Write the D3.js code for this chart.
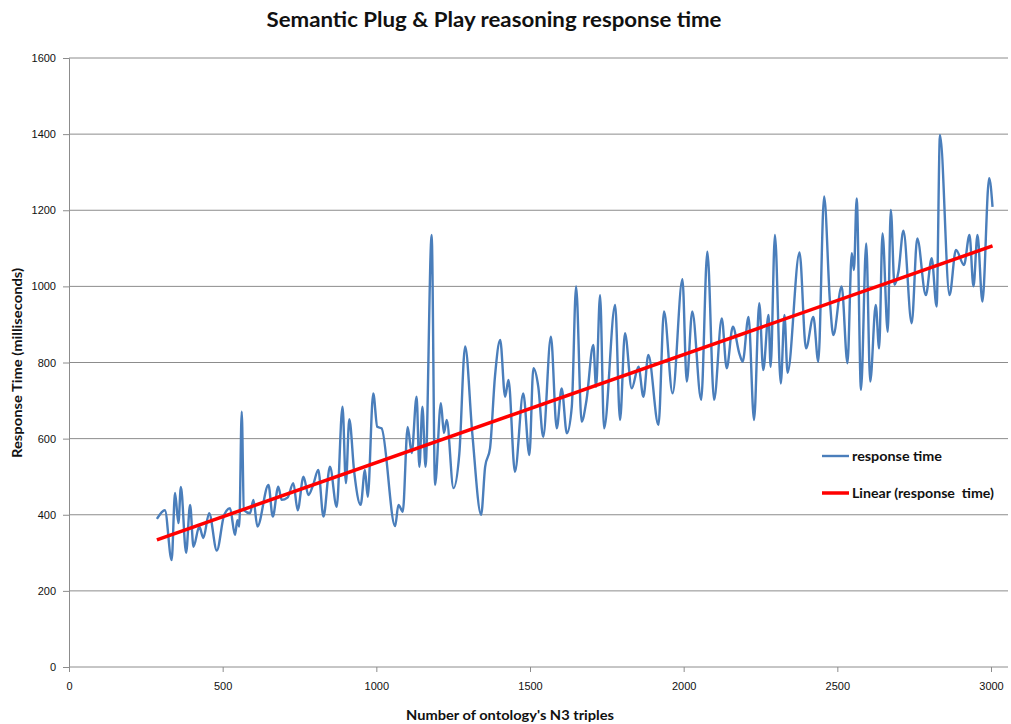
<!DOCTYPE html>
<html>
<head>
<meta charset="utf-8">
<title>Semantic Plug & Play reasoning response time</title>
<script src="https://cdn.jsdelivr.net/npm/d3@7"></script>
<style>
    body { margin: 0; background: #fff; }
    .tick-text { font-family: "Liberation Sans Narrow", "Liberation Sans", sans-serif; font-size: 11px; fill: #111; }
    .bold-text { font-family: Lato, "Open Sans", sans-serif; font-weight: bold; fill: #111; white-space: pre; }
</style>
</head>
<body>
<div id="chart" style="width:1011px;height:724px;"></div>
<script>

/* number of ontology's N3 triples (x) */
const triples = [
    286, 312, 334, 345, 356, 364, 381, 394, 405, 424, 437, 456, 481, 505, 524, 540, 548, 554, 562, 569,
    589, 600, 613, 649, 663, 681, 692, 711, 730, 744, 763, 779, 795, 811, 828, 849, 871, 890, 901, 912,
    928, 949, 963, 972, 990, 1003, 1017, 1061, 1072, 1086, 1102, 1115, 1131, 1140, 1150, 1160, 1180, 1191, 1210, 1220,
    1229, 1251, 1270, 1289, 1312, 1341, 1354, 1370, 1386, 1403, 1419, 1430, 1451, 1478, 1498, 1511, 1527, 1543, 1568, 1587,
    1603, 1620, 1636, 1650, 1668, 1684, 1706, 1715, 1728, 1741, 1777, 1793, 1809, 1831, 1853, 1869, 1885, 1918, 1936, 1964,
    1996, 2010, 2028, 2057, 2077, 2099, 2124, 2140, 2160, 2181, 2192, 2211, 2229, 2246, 2259, 2276, 2283, 2297, 2316, 2328,
    2338, 2377, 2398, 2422, 2438, 2457, 2476, 2487, 2514, 2533, 2547, 2554, 2563, 2577, 2594, 2607, 2625, 2636, 2647, 2664,
    2674, 2686, 2699, 2715, 2742, 2760, 2788, 2807, 2823, 2834, 2865, 2886, 2912, 2930, 2943, 2956, 2972, 2994, 3005
];

/* response time in milliseconds (y) */
const responseMs = [
    389, 412, 281, 457, 378, 473, 300, 426, 316, 369, 339, 404, 306, 400, 417, 347, 386, 369, 671, 412,
    404, 439, 369, 478, 395, 474, 439, 445, 483, 412, 500, 452, 480, 518, 395, 526, 421, 684, 483, 651,
    512, 426, 518, 447, 719, 631, 627, 370, 426, 408, 631, 562, 710, 526, 684, 526, 1135, 478, 693, 615,
    649, 470, 560, 842, 616, 400, 526, 575, 763, 859, 710, 754, 513, 719, 557, 785, 736, 605, 868, 627,
    732, 614, 684, 1000, 645, 702, 846, 736, 977, 627, 951, 649, 877, 732, 789, 710, 820, 636, 934, 719,
    1019, 750, 934, 702, 1091, 702, 916, 785, 894, 824, 802, 920, 649, 956, 780, 925, 789, 1135, 745, 925,
    773, 1089, 837, 920, 802, 1236, 960, 872, 1000, 798, 1087, 1043, 1231, 728, 1113, 750, 951, 837, 1139, 881,
    1201, 1004, 1039, 1146, 903, 1126, 977, 1074, 947, 1398, 977, 1096, 1056, 1135, 1000, 1135, 960, 1284, 1209
];

/* linear trend line (response time): [slope, intercept] */
const trendCoef = [0.2841, 252.7];

/* tick labels */
const xTicks = [0, 500, 1000, 1500, 2000, 2500, 3000];
const yTicks = [0, 200, 400, 600, 800, 1000, 1200, 1400, 1600];

const seriesNames = ["response time", "Linear (response  time)"];

function drawChart(container) {

    const W = 1011, H = 724;
    const plotLeft = 69, plotRight = 1008, plotTop = 58, plotBottom = 667;

    const svg = d3.select(container)
        .append("svg")
        .attr("xmlns", "http://www.w3.org/2000/svg")
        .attr("width", W)
        .attr("height", H);

    /* scales */
    const xScale = d3.scaleLinear().domain([0, 3000]).range([plotLeft, 991]);
    const yScale = d3.scaleLinear().domain([0, 1600]).range([plotBottom, plotTop]);

    /* title */
    svg.append("text")
        .attr("class", "bold-text")
        .attr("x", 494).attr("y", 27)
        .attr("text-anchor", "middle")
        .attr("font-size", 20)
        .attr("textLength", 455)
        .attr("lengthAdjust", "spacingAndGlyphs")
        .text("Semantic Plug & Play reasoning response time");

    /* horizontal gridlines */
    svg.append("g").attr("id", "gridlines")
        .selectAll("line")
        .data(yTicks.slice(1))
        .join("line")
        .attr("x1", plotLeft).attr("x2", plotRight)
        .attr("y1", d => yScale(d)).attr("y2", d => yScale(d))
        .attr("stroke", "#8c8c8c")
        .attr("stroke-width", 1);

    /* y axis */
    const yAxisGroup = svg.append("g")
        .attr("transform", `translate(${plotLeft},0)`)
        .call(d3.axisLeft(yScale).tickValues(yTicks).tickSize(6).tickPadding(7).tickFormat(d3.format("d")));
    yAxisGroup.select(".domain").attr("stroke", "#8c8c8c");
    yAxisGroup.selectAll(".tick line").attr("stroke", "#8c8c8c");
    yAxisGroup.selectAll(".tick text").attr("class", "tick-text").attr("font-size", null).attr("font-family", null).attr("fill", null);

    /* x axis */
    const xAxisGroup = svg.append("g")
        .attr("transform", `translate(0,${plotBottom})`)
        .call(d3.axisBottom(xScale).tickValues(xTicks).tickSize(5).tickPadding(10).tickFormat(d3.format("d")));
    xAxisGroup.select(".domain").remove();
    xAxisGroup.append("line")
        .attr("x1", plotLeft).attr("x2", plotRight)
        .attr("stroke", "#8c8c8c");
    xAxisGroup.selectAll(".tick line").attr("stroke", "#8c8c8c");
    xAxisGroup.selectAll(".tick text").attr("class", "tick-text").attr("font-size", null).attr("font-family", null).attr("fill", null);

    /* axis titles */
    svg.append("text")
        .attr("class", "bold-text")
        .attr("x", 510).attr("y", 720)
        .attr("text-anchor", "middle")
        .attr("font-size", 12.5)
        .attr("textLength", 208)
        .attr("lengthAdjust", "spacingAndGlyphs")
        .text("Number of ontology's N3 triples");

    svg.append("text")
        .attr("class", "bold-text")
        .attr("transform", "translate(22,363) rotate(-90)")
        .attr("text-anchor", "middle")
        .attr("font-size", 12.5)
        .attr("textLength", 190)
        .attr("lengthAdjust", "spacingAndGlyphs")
        .text("Response Time (milliseconds)");

    /* response time series, smoothed */
    const dataset = triples.map((t, i) => ({ x: t, y: responseMs[i] }));
    const lineGen = d3.line()
        .x(d => xScale(d.x))
        .y(d => yScale(d.y))
        .curve(d3.curveMonotoneX);

    svg.append("path")
        .datum(dataset)
        .attr("d", lineGen)
        .attr("fill", "none")
        .attr("stroke", "#4a7ebb")
        .attr("stroke-width", 2.4)
        .attr("stroke-linejoin", "round");

    /* linear trend line over the data range */
    const xExt = d3.extent(triples);
    const trendData = xExt.map(t => ({ x: t, y: trendCoef[0] * t + trendCoef[1] }));
    svg.append("path")
        .datum(trendData)
        .attr("d", d3.line().x(d => xScale(d.x)).y(d => yScale(d.y)))
        .attr("fill", "none")
        .attr("stroke", "#ff0000")
        .attr("stroke-width", 3.5);

    /* legend */
    const legend = svg.append("g").attr("id", "legend");
    const legendColors = ["#4a7ebb", "#ff0000"];
    const legendText = [90, 142];
    seriesNames.forEach((name, i) => {
        const ly = 456 + i * 37;
        legend.append("line")
            .attr("x1", 822).attr("x2", 849)
            .attr("y1", ly).attr("y2", ly)
            .attr("stroke", legendColors[i])
            .attr("stroke-width", i === 0 ? 2.4 : 3.5);
        legend.append("text")
            .attr("class", "bold-text")
            .attr("x", 852).attr("y", ly + 4.5)
            .attr("font-size", 12.5)
            .attr("textLength", legendText[i])
            .attr("lengthAdjust", "spacingAndGlyphs")
            .text(name);
    });
}

drawChart(document.getElementById("chart"));

</script>
</body>
</html>
